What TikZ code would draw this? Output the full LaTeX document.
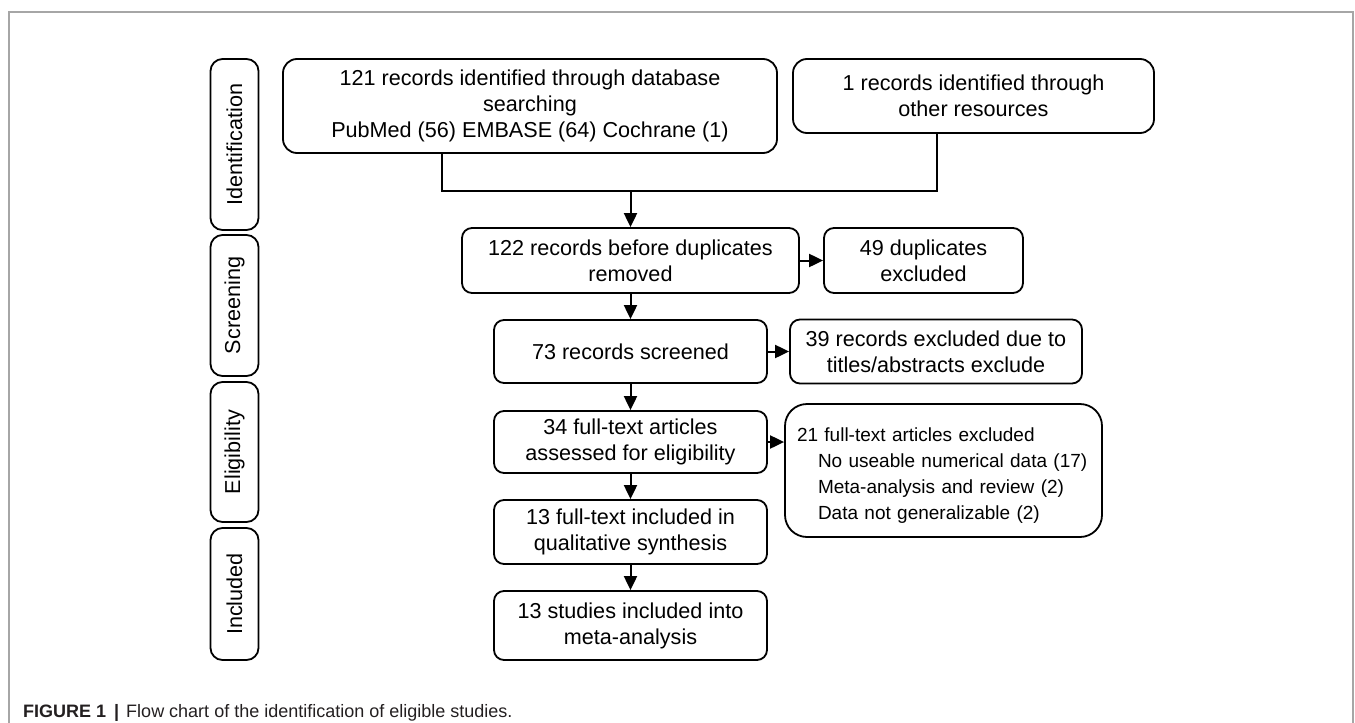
\documentclass[tikz,border=0pt]{standalone}
\usepackage{fontspec}
\setmainfont{Liberation Sans}
\usetikzlibrary{arrows.meta}
\definecolor{framegray}{HTML}{A6A6A6}
\definecolor{captext}{HTML}{231F20}
\begin{document}
\begin{tikzpicture}[x=1pt,y=-1pt,
  box/.style={draw=black, line width=1.8pt, rounded corners=10pt, inner sep=0pt,
    align=center, font=\fontsize{21.6}{26}\selectfont},
  sidebox/.style={draw=black, line width=1.8pt, rounded corners=12pt, inner sep=0pt,
    rotate=90, minimum height=48pt, font=\fontsize{21.6}{26}\selectfont},
  arr/.style={line width=2pt, -{Triangle[length=14pt,width=13pt]}},
  conn/.style={line width=2pt}]
\useasboundingbox (0,0) rectangle (1355,723);
\draw[framegray, line width=1.2pt] (9,723) -- (9,12) -- (1353,12) -- (1353,723);

% side labels
\node[sidebox, minimum width=171pt] (sid) at (234.5,144.5) {Identification};
\node[sidebox, minimum width=141pt] (sscr) at (234.5,305.5) {Screening};
\node[sidebox, minimum width=140pt] (selig) at (234.5,452) {Eligibility};
\node[sidebox, minimum width=132pt] (sinc) at (234.5,594) {Included};

% main boxes
\node[box, rounded corners=14pt, minimum width=494pt, minimum height=94pt] (b1) at (530,106)
  {121 records identified through database\\searching\\PubMed (56) EMBASE (64) Cochrane (1)};
\node[box, rounded corners=14pt, minimum width=361pt, minimum height=74pt] (b2) at (973.5,96)
  {1 records identified through\\other resources};
\node[box, minimum width=337pt, minimum height=65pt] (b3) at (630.5,260.5)
  {122 records before duplicates\\removed};
\node[box, minimum width=199pt, minimum height=65pt] (b4) at (923.5,260.5)
  {49 duplicates\\excluded};
\node[box, minimum width=273pt, minimum height=63pt] (b5) at (630.5,351.5)
  {73 records screened};
\node[box, minimum width=292pt, minimum height=64pt] (b6) at (936,351.5)
  {39 records excluded due to\\titles/abstracts exclude};
\node[box, minimum width=273pt, minimum height=62pt] (b7) at (630.5,442)
  {34 full-text articles\\assessed for eligibility};
\node[box, rounded corners=22pt, align=left, text width=293pt, inner xsep=12pt,
  minimum height=133pt, font=\fontsize{19}{26}\selectfont] (b8) at (943.5,470.5)
  {\raisebox{-5pt}[\height][\depth]{\parbox{293pt}{21 full-text articles excluded\\
   \hspace*{21pt}No useable numerical data (17)\\
   \hspace*{21pt}Meta-analysis and review (2)\\
   \hspace*{21pt}Data not generalizable (2)}}};
\node[box, minimum width=273pt, minimum height=64pt] (b9) at (630.5,532)
  {13 full-text included in\\qualitative synthesis};
\node[box, minimum width=273pt, minimum height=69pt] (b10) at (630.5,625.5)
  {13 studies included into\\meta-analysis};

% connectors
\coordinate (j1) at (442,191);
\coordinate (j2) at (937,191);
\draw[conn] (b1.south -| j1) -- (j1) -- (j2) -- (b2.south -| j2);
\draw[arr] (b3.north |- j1) -- (b3.north);
\draw[arr] (b3.east) -- (b4.west);
\draw[arr] (b3.south) -- (b5.north);
\draw[arr] (b5.east) -- (b6.west);
\draw[arr] (b5.south) -- (b7.north);
\draw[arr] (b7.east) -- (b7.east -| b8.west);
\draw[arr] (b7.south) -- (b9.north);
\draw[arr] (b9.south) -- (b10.north);

% caption
\node[anchor=base west, inner sep=0pt, text=captext, font=\fontsize{18}{20}\selectfont] (cap) at (23,717)
  {\textbf{FIGURE 1}\hspace{8pt}\textbf{|}\hspace{7pt}Flow chart of the identification of eligible studies.};
\end{tikzpicture}
\end{document}
